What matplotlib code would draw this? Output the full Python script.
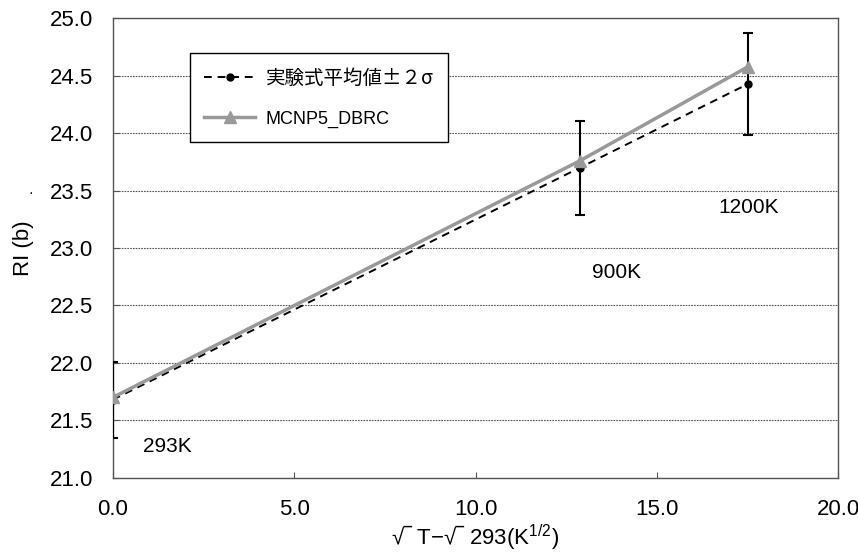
import matplotlib

matplotlib.use("Agg")
import matplotlib.pyplot as plt

plt.rcParams["font.family"] = ["Liberation Sans", "Noto Sans CJK JP", "DejaVu Sans"]
plt.rcParams["mathtext.fontset"] = "custom"
plt.rcParams["mathtext.rm"] = "Liberation Sans"
plt.rcParams["mathtext.it"] = "Liberation Sans"

# 横軸: √T - √293 (K^1/2)
x_vals = [0.0, 12.88, 17.52]
temp_labels = ["293K", "900K", "1200K"]
label_pos = [(0.83, 21.27), (13.2, 22.79), (16.69, 23.35)]

exp_mean = [21.68, 23.70, 24.43]
exp_err = [0.33, 0.41, 0.445]
mcnp = [21.70, 23.76, 24.58]

x_ticks = [0.0, 5.0, 10.0, 15.0, 20.0]
y_ticks = [21.0, 21.5, 22.0, 22.5, 23.0, 23.5, 24.0, 24.5, 25.0]

fig = plt.figure(figsize=(8.58, 5.52), dpi=100)
ax = fig.add_axes([0.1317, 0.1346, 0.845, 0.832])

ax.errorbar(x_vals, exp_mean, yerr=exp_err, fmt="none", ecolor="black",
            elinewidth=1.5, capsize=3.5, capthick=1.5, zorder=3)
ax.plot(x_vals, exp_mean, linestyle=(0, (4, 3)), color="black", linewidth=1.4,
        marker="o", markersize=5, label="実験式平均値±２σ", zorder=4)
ax.plot(x_vals, mcnp, linestyle="-", color="#999999", linewidth=2.5,
        marker="^", markersize=9, label="MCNP5_DBRC", zorder=5)

for t, (tx, ty) in zip(temp_labels, label_pos):
    ax.text(tx, ty, t, fontsize=15, ha="left", va="center")

ax.set_xlim(0, 20)
ax.set_ylim(21, 25)
ax.set_xticks(x_ticks)
ax.set_yticks(y_ticks)
ax.set_xticklabels([f"{v:.1f}" for v in x_ticks])
ax.set_yticklabels([f"{v:.1f}" for v in y_ticks])
ax.tick_params(axis="both", direction="in", length=4, labelsize=16, colors="#555555",
               labelcolor="black")
ax.tick_params(axis="x", pad=15)
ax.tick_params(axis="y", pad=14)
ax.yaxis.grid(True, linestyle=(0, (1.5, 1.0)), color="#555555", linewidth=0.8)
ax.set_axisbelow(True)
for s in ax.spines.values():
    s.set_color("#555555")
    s.set_linewidth(1.0)

ax.set_xlabel("√‾ T−√‾ 293(K$^{1/2}$)", fontsize=16, labelpad=2)
ax.set_ylabel("RI (b)", fontsize=16, labelpad=12)
fig.text(0.036, 0.651, "·", fontsize=10, ha="center", va="center")

leg = ax.legend(loc="upper left", bbox_to_anchor=(0.106, 0.924), borderaxespad=0,
                fontsize=13, frameon=True, fancybox=False, handlelength=2.8,
                labelspacing=1.2, borderpad=0.8, handletextpad=0.6)
leg_txt = leg.get_texts()[0]
leg_txt.set_fontfamily(["Noto Sans CJK JP"])
leg_txt.set_fontsize(14)
leg.get_frame().set_edgecolor("black")
leg.get_frame().set_linewidth(1.0)
leg.get_frame().set_alpha(1.0)

fig.savefig("out.png", dpi=100)
plt.close(fig)
